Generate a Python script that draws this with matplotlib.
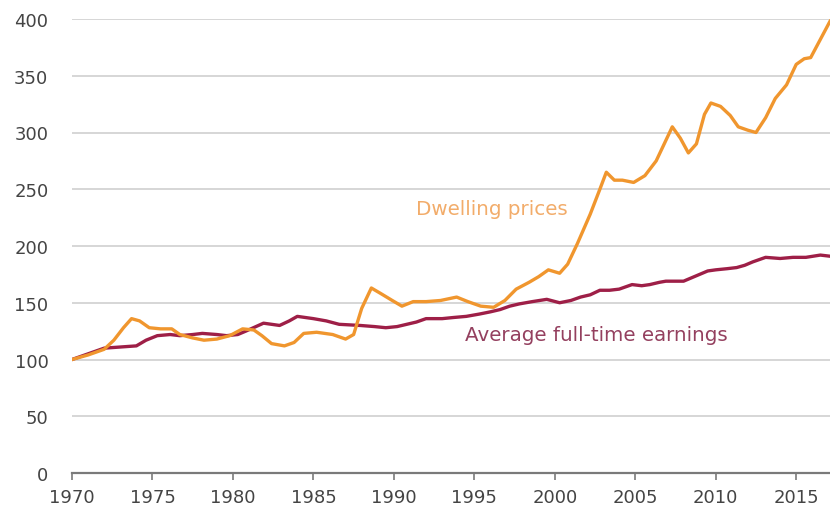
import matplotlib
matplotlib.use("Agg")
import matplotlib.pyplot as plt

# Dwelling prices index (1970 = 100)
dwelling_years = [1970.0, 1971.0, 1972.0, 1972.6, 1973.2, 1973.7, 1974.2, 1974.8, 1975.5, 1976.2,
                  1976.7, 1977.5, 1978.2, 1979.0, 1979.8, 1980.6, 1981.3, 1981.8, 1982.4, 1983.2,
                  1983.8, 1984.4, 1985.2, 1986.2, 1987.0, 1987.5, 1988.0, 1988.6, 1989.2, 1989.9,
                  1990.5, 1991.2, 1992.0, 1992.9, 1993.9, 1994.6, 1995.4, 1996.2, 1996.9, 1997.6,
                  1998.4, 1999.0, 1999.6, 2000.3, 2000.8, 2001.4, 2002.2, 2002.8, 2003.2, 2003.7,
                  2004.2, 2004.9, 2005.6, 2006.3, 2006.9, 2007.3, 2007.8, 2008.3, 2008.8, 2009.3,
                  2009.7, 2010.3, 2010.9, 2011.4, 2012.0, 2012.5, 2013.1, 2013.7, 2014.4, 2015.0,
                  2015.5, 2015.9, 2016.5, 2017.1]
dwelling_values = [100, 104, 109, 117, 128, 136, 134, 128, 127, 127,
                   122, 119, 117, 118, 121, 127, 126, 121, 114, 112,
                   115, 123, 124, 122, 118, 122, 145, 163, 158, 152,
                   147, 151, 151, 152, 155, 151, 147, 146, 152, 162,
                   168, 173, 179, 176, 184, 202, 228, 250, 265, 258,
                   258, 256, 262, 275, 293, 305, 295, 282, 290, 316,
                   326, 323, 315, 305, 302, 300, 313, 330, 342, 360,
                   365, 366, 382, 398]

# Average full-time earnings index (1970 = 100)
earnings_years = [1970.0, 1971.0, 1972.0, 1973.0, 1974.0, 1974.6, 1975.3, 1976.1, 1976.7, 1977.5,
                  1978.1, 1979.0, 1979.6, 1980.3, 1980.8, 1981.9, 1982.9, 1983.5, 1984.0, 1985.0,
                  1985.8, 1986.6, 1987.9, 1988.8, 1989.5, 1990.2, 1990.8, 1991.4, 1992.0, 1993.0,
                  1993.7, 1994.5, 1995.3, 1996.0, 1996.6, 1997.2, 1997.8, 1998.6, 1999.5, 2000.3,
                  2001.0, 2001.6, 2002.2, 2002.8, 2003.4, 2004.0, 2004.8, 2005.4, 2005.9, 2006.5,
                  2006.9, 2008.0, 2008.5, 2009.0, 2009.5, 2010.0, 2010.7, 2011.3, 2011.8, 2012.3,
                  2012.7, 2013.1, 2014.0, 2014.8, 2015.6, 2016.5, 2017.1]
earnings_values = [100, 105, 110, 111, 112, 117, 121, 122, 121, 122,
                   123, 122, 121, 122, 125, 132, 130, 134, 138, 136,
                   134, 131, 130, 129, 128, 129, 131, 133, 136, 136,
                   137, 138, 140, 142, 144, 147, 149, 151, 153, 150,
                   152, 155, 157, 161, 161, 162, 166, 165, 166, 168,
                   169, 169, 172, 175, 178, 179, 180, 181, 183, 186,
                   188, 190, 189, 190, 190, 192, 191]

x_ticks = [1970, 1975, 1980, 1985, 1990, 1995, 2000, 2005, 2010, 2015]
y_ticks = [0, 50, 100, 150, 200, 250, 300, 350, 400]

ORANGE = "#f0962e"
DARKRED = "#9e1f47"

plt.rcParams['font.family'] = ['DejaVu Sans']

fig = plt.figure(figsize=(8.3, 5.1), dpi=100)
ax = fig.add_axes([72 / 830, 36 / 510, 1 - 72 / 830, 454 / 510])

for y in y_ticks[1:]:
    ax.axhline(y, color="#d6d6d6", lw=1.4, zorder=1)

ax.plot(earnings_years, earnings_values, color=DARKRED, lw=2.4, zorder=3, solid_joinstyle="round")
ax.plot(dwelling_years, dwelling_values, color=ORANGE, lw=2.4, zorder=4, solid_joinstyle="round")

ax.text(1991.4, 233, "Dwelling prices", color="#f2ac6a", fontsize=14.3,
        ha="left", va="center")
ax.text(1994.4, 122, "Average full-time earnings", color="#94405f", fontsize=14.3,
        ha="left", va="center")

ax.set_xlim(1970, 2017.1)
ax.set_ylim(0, 400)
ax.set_xticks(x_ticks)
ax.set_yticks(y_ticks)

for s in ["top", "right", "left"]:
    ax.spines[s].set_visible(False)
ax.spines["bottom"].set_color("#7a7a7a")
ax.spines["bottom"].set_linewidth(1.6)

ax.tick_params(axis="x", direction="out", length=5, width=1.2, color="#7a7a7a",
               labelsize=13, labelcolor="#444444", pad=6)
ax.tick_params(axis="y", length=0, labelsize=13, labelcolor="#444444", pad=17)

fig.savefig("out.png", dpi=100)
